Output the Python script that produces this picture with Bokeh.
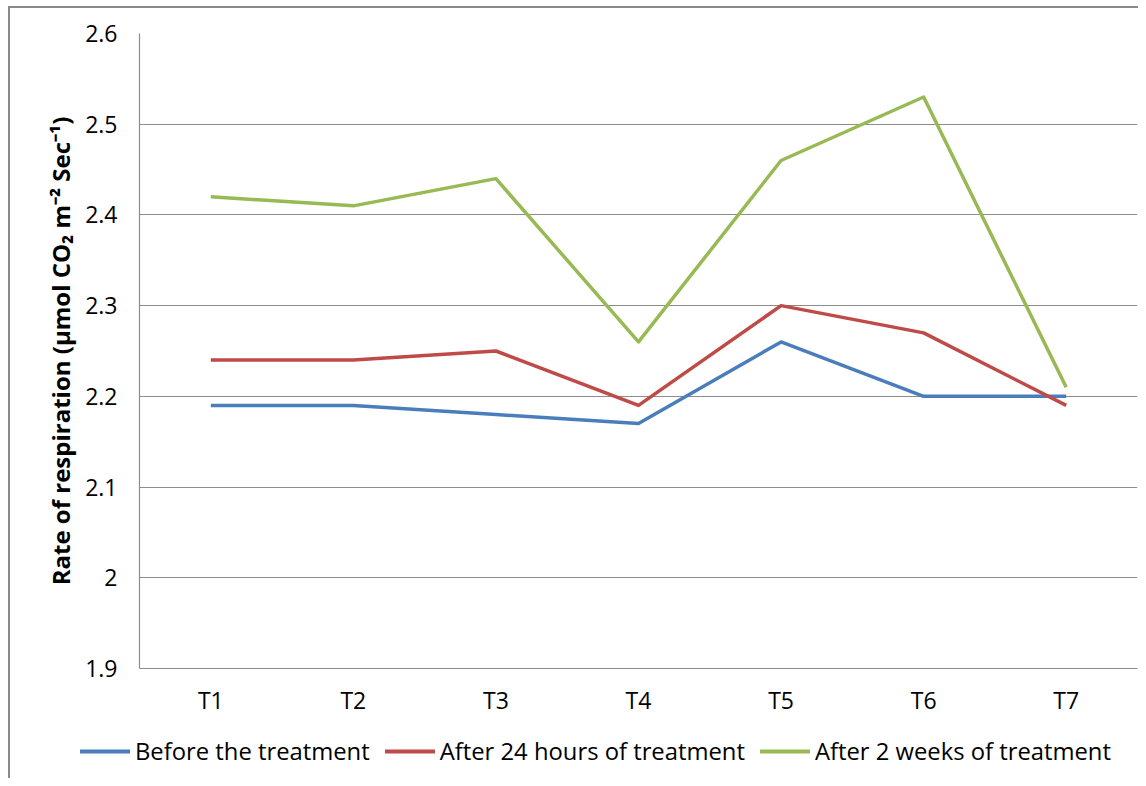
from bokeh.plotting import figure
from bokeh.layouts import column
from bokeh.models import (FactorRange, Range1d, Legend, LegendItem, FixedTicker,
                          CustomJSTickFormatter)
from bokeh.embed import file_html
from bokeh.resources import INLINE

categories = ["T1", "T2", "T3", "T4", "T5", "T6", "T7"]
before = [2.19, 2.19, 2.18, 2.17, 2.26, 2.20, 2.20]
after_24h = [2.24, 2.24, 2.25, 2.19, 2.30, 2.27, 2.19]
after_2w = [2.42, 2.41, 2.44, 2.26, 2.46, 2.53, 2.21]
series_names = ["Before the treatment", "After 24 hours of treatment", "After 2 weeks of treatment"]
y_ticks = [1.9, 2.0, 2.1, 2.2, 2.3, 2.4, 2.5, 2.6]

colors = ["#4a7ebb", "#be4b48", "#98b954"]
FONT = "Open Sans"

p = figure(width=1128, height=720, x_range=FactorRange(*categories),
           y_range=Range1d(1.9, 2.6), output_backend="svg", toolbar_location=None,
           min_border_left=129, min_border_right=1, min_border_top=25,
           min_border_bottom=60, frame_align=False)
p.outline_line_color = None

for vals, c in zip([before, after_24h, after_2w], colors):
    p.line(categories, vals, line_color=c, line_width=3.5, line_join="round")

# axes
p.yaxis.ticker = FixedTicker(ticks=y_ticks)
p.yaxis.formatter = CustomJSTickFormatter(code="return String(Number(tick.toFixed(1)));")
for ax in [p.xaxis[0], p.yaxis[0]]:
    ax.major_tick_in = 0
    ax.major_tick_out = 0
    ax.minor_tick_in = 0
    ax.minor_tick_out = 0
    ax.axis_line_color = "#8c8c8c"
    ax.axis_line_width = 1.2
    ax.major_label_text_font = FONT
    ax.major_label_text_font_size = "23px"
    ax.major_label_text_color = "#000000"
p.yaxis.major_label_standoff = 22
p.xaxis.major_label_standoff = 15
p.yaxis.axis_label = "Rate of respiration (µmol CO₂ m⁻² Sec⁻¹)"
p.yaxis.axis_label_text_font = FONT
p.yaxis.axis_label_text_font_style = "bold"
p.yaxis.axis_label_text_font_size = "24px"
p.yaxis.axis_label_text_color = "#000000"
p.yaxis.axis_label_standoff = 5

p.xgrid.grid_line_color = None
p.ygrid.grid_line_color = "#8c8c8c"
p.ygrid.grid_line_width = 1.2

# legend strip below the chart
nan = float("nan")
lg = figure(width=1128, height=50, x_range=Range1d(0, 1), y_range=Range1d(0, 1),
            output_backend="svg", toolbar_location=None, x_axis_type=None,
            y_axis_type=None, min_border=0, frame_align=False)
lg.outline_line_color = None
lg.grid.grid_line_color = None
legend_renderers = [lg.line(x=[nan], y=[nan], line_color=c, line_width=4, line_cap="round")
                    for c in colors]
items = [LegendItem(label=n, renderers=[r]) for n, r in zip(series_names, legend_renderers)]
legend = Legend(items=items, orientation="horizontal", location=(70, 11),
                border_line_color=None, background_fill_alpha=0, padding=0, margin=0,
                spacing=15, glyph_width=50, glyph_height=20, label_standoff=5,
                label_text_font=FONT, label_text_font_size="23.8px",
                label_text_color="#000000",
                label_height=20, label_text_baseline="middle")
lg.add_layout(legend, "center")

layout = column(p, lg, spacing=0,
                styles={"border-top": "2px solid #8a8a8a", "border-left": "2px solid #8a8a8a",
                        "margin-left": "8px", "margin-top": "6px"})

open("out.html", "w").write(file_html(layout, INLINE))
